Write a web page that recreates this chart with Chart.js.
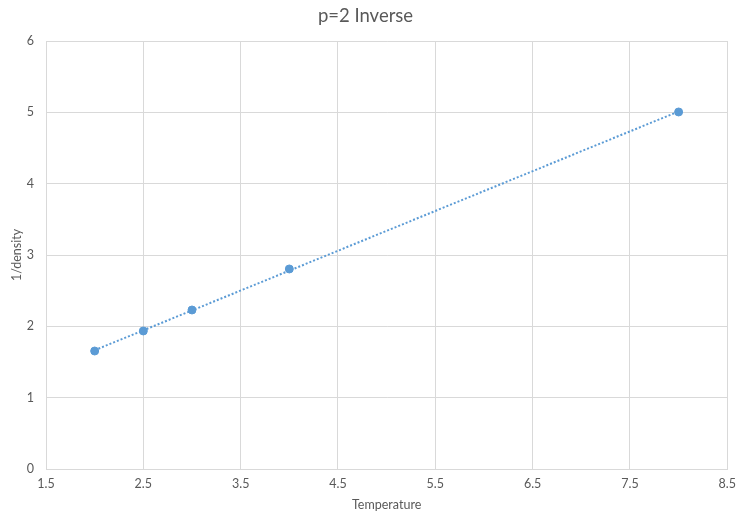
<!DOCTYPE html>
<html>
<head>
<meta charset="utf-8">
<script src="https://cdn.jsdelivr.net/npm/chart.js@4/dist/chart.umd.min.js"></script>
<style>
  html, body { margin: 0; padding: 0; background: #fff; }
  #wrap { width: 743px; height: 517px; }
</style>
</head>
<body>
<div id="wrap"><canvas id="chart" width="743" height="517"></canvas></div>
<script>
// data
const temperature = [2, 2.5, 3, 4, 8];
const invDensity = [1.654, 1.935, 2.229, 2.804, 5.005];
// linear trendline end points (as drawn)
const trendX = [2, 8];
const trendY = [1.665, 5.012];
const xTicks = [1.5, 2.5, 3.5, 4.5, 5.5, 6.5, 7.5, 8.5];
const yTicks = [0, 1, 2, 3, 4, 5, 6];

const blue = '#5b9bd5';
const gridColor = '#d9d9d9';
const textColor = '#595959';
const fontFamily = 'Lato, "Open Sans", sans-serif';

const ctx = document.getElementById('chart').getContext('2d');
new Chart(ctx, {
    type: 'scatter',
    data: {
        datasets: [{
            label: 'Trend',
            data: trendX.map((x, i) => ({ x: x, y: trendY[i] })),
            showLine: true,
            borderColor: blue,
            borderWidth: 2,
            borderDash: [2, 2],
            pointRadius: 0,
            order: 2
        }, {
            label: '1/density',
            data: temperature.map((x, i) => ({ x: x, y: invDensity[i] })),
            backgroundColor: blue,
            borderColor: blue,
            pointRadius: 4,
            order: 1
        }]
    },
    options: {
        responsive: false,
        animation: false,
        layout: { padding: { left: 0, right: 12, top: 0, bottom: 0 } },
        plugins: {
            legend: { display: false },
            tooltip: { enabled: false },
            title: {
                display: true,
                text: 'p=2 Inverse',
                color: textColor,
                font: { family: fontFamily, size: 18.5, weight: 'normal' },
                padding: { top: 4.5, bottom: 14.3 }
            }
        },
        scales: {
            x: {
                type: 'linear',
                min: 1.5,
                max: 8.5,
                afterBuildTicks: axis => { axis.ticks = xTicks.map(v => ({ value: v })); },
                afterFit: axis => { axis.height = 48; },
                grid: { color: gridColor, drawTicks: false },
                border: { color: gridColor },
                ticks: {
                    color: textColor,
                    padding: 7,
                    maxRotation: 0,
                    font: { family: fontFamily, size: 12.5 },
                    callback: v => String(v)
                },
                title: {
                    display: true,
                    text: 'Temperature',
                    color: textColor,
                    font: { family: fontFamily, size: 12.5 },
                    padding: { top: 0, bottom: 5 }
                }
            },
            y: {
                type: 'linear',
                min: 0,
                max: 6,
                afterBuildTicks: axis => { axis.ticks = yTicks.map(v => ({ value: v })); },
                afterFit: axis => { axis.width = 46; },
                grid: { color: gridColor, drawTicks: false },
                border: { color: gridColor },
                ticks: {
                    color: textColor,
                    padding: 12,
                    font: { family: fontFamily, size: 12.5 },
                    callback: v => String(v)
                },
                title: {
                    display: true,
                    text: '1/density',
                    color: textColor,
                    font: { family: fontFamily, size: 12.5 },
                    padding: { top: 9, bottom: 0 }
                }
            }
        }
    }
});
</script>
</body>
</html>
